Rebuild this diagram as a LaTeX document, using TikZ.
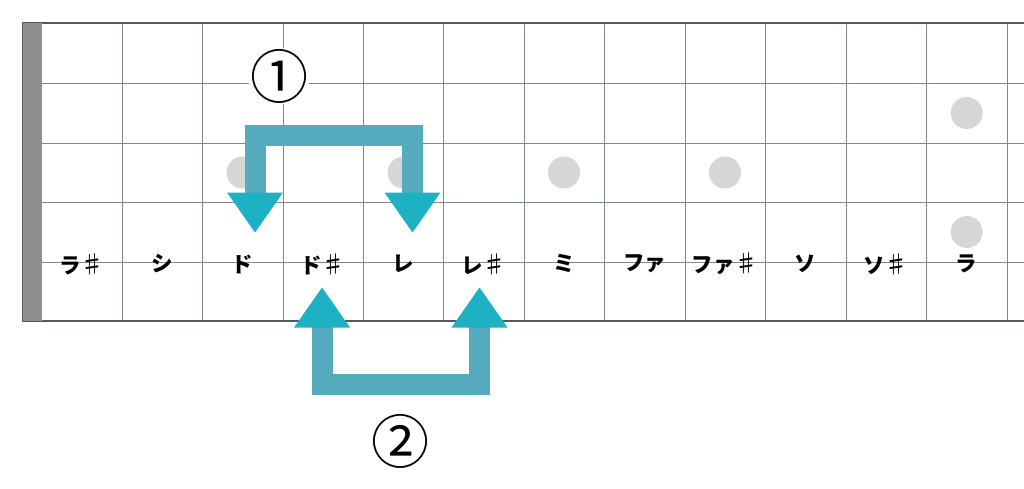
\documentclass[tikz,border=0pt]{standalone}
\usepackage{fontspec}
\newfontfamily\cjk{Noto Sans CJK JP}
\usetikzlibrary{calc}
\definecolor{gridc}{HTML}{7D8896}
\definecolor{borderc}{HTML}{555A60}
\definecolor{nutc}{HTML}{8F8F8F}
\definecolor{dotc}{HTML}{D6D6D6}
\definecolor{shaftc}{HTML}{55ACBE}
\definecolor{headc}{HTML}{1EB1C4}
\tikzset{
  gridline/.style={draw=gridc, line width=0.8pt},
  borderline/.style={draw=borderc, line width=1.3pt},
  fretdot/.style={circle, fill=dotc, minimum size=32pt, inner sep=0pt},
  note/.style={font=\cjk\fontsize{21.5}{21.5}\selectfont\bfseries, inner sep=0pt, anchor=center},
  stepnum/.style={font=\cjk\fontsize{58}{58}\selectfont, fill=white, inner sep=1pt},
  shaft/.style={draw=shaftc, line width=21pt, line join=miter},
  head/.style={fill=headc},
}
\newcommand{\sh}{\mdseries\fontsize{24}{24}\selectfont ♯}
\begin{document}
\begin{tikzpicture}[x=1pt,y=-1pt]
\useasboundingbox (0,0) rectangle (1024,489);
% horizontal strings
\foreach \yy in {83,143,202,262} \draw[gridline] (42,\yy) -- (1024,\yy);
% frets
\foreach \xx in {122.3,202.7,283,363.4,443.8,524.2,604.5,684.9,765.3,845.9,926.5,1007}
  \draw[gridline] (\xx,23) -- (\xx,321);
% outer border
\draw[borderline] (22,23) -- (1024,23);
\draw[borderline] (22,321) -- (1024,321);
% nut
\fill[nutc] (22,23) rectangle (42,321);
\draw[draw=borderc, line width=0.8pt] (22,23) -- (22,321);
% fret dots
\node[fretdot] (d1) at (242.5,172.5) {};
\node[fretdot] (d2) at (403.6,172.5) {};
\node[fretdot] (d3) at (564,172.5) {};
\node[fretdot] (d4) at (725,172.5) {};
\node[fretdot] (d5) at (966.7,113) {};
\node[fretdot] (d6) at (966.7,232) {};
% note names
\node[note] (n1) at (82,264) {ラ\sh};
\node[note] (n2) at (162.5,264) {シ};
\node[note] (n3) at (242.5,264) {ド};
\node[note] (n4) at (323,264) {ド\sh};
\node[note] (n5) at (403.6,264) {レ};
\node[note] (n6) at (484,264) {レ\sh};
\node[note] (n7) at (564.3,264) {ミ};
\node[note] (n8) at (644.7,264) {ファ};
\node[note] (n9) at (725,264) {ファ\sh};
\node[note] (n10) at (805.6,264) {ソ};
\node[note] (n11) at (886.2,264) {ソ\sh};
\node[note] (n12) at (966.7,264) {ラ};
% arrow 1
\coordinate (t1) at (255,232.5);
\coordinate (t2) at (412.5,232.5);
\draw[shaft] ($(t1)+(0,-39)$) -- ++(0,-58) -| ($(t2)+(0,-39)$);
\fill[head] (t1) -- ++(-28,-40) -- ++(56,0) -- cycle;
\fill[head] (t2) -- ++(-28,-40) -- ++(56,0) -- cycle;
% arrow 2
\coordinate (t3) at (322,287.5);
\coordinate (t4) at (479.5,287.5);
\draw[shaft] ($(t3)+(0,39)$) -- ++(0,57.5) -| ($(t4)+(0,39)$);
\fill[head] (t3) -- ++(-28,40) -- ++(56,0) -- cycle;
\fill[head] (t4) -- ++(-28,40) -- ++(56,0) -- cycle;
% step labels
\node[stepnum] (s1) at (279,76) {①};
\node[stepnum] (s2) at (400,441) {②};
\end{tikzpicture}
\end{document}
